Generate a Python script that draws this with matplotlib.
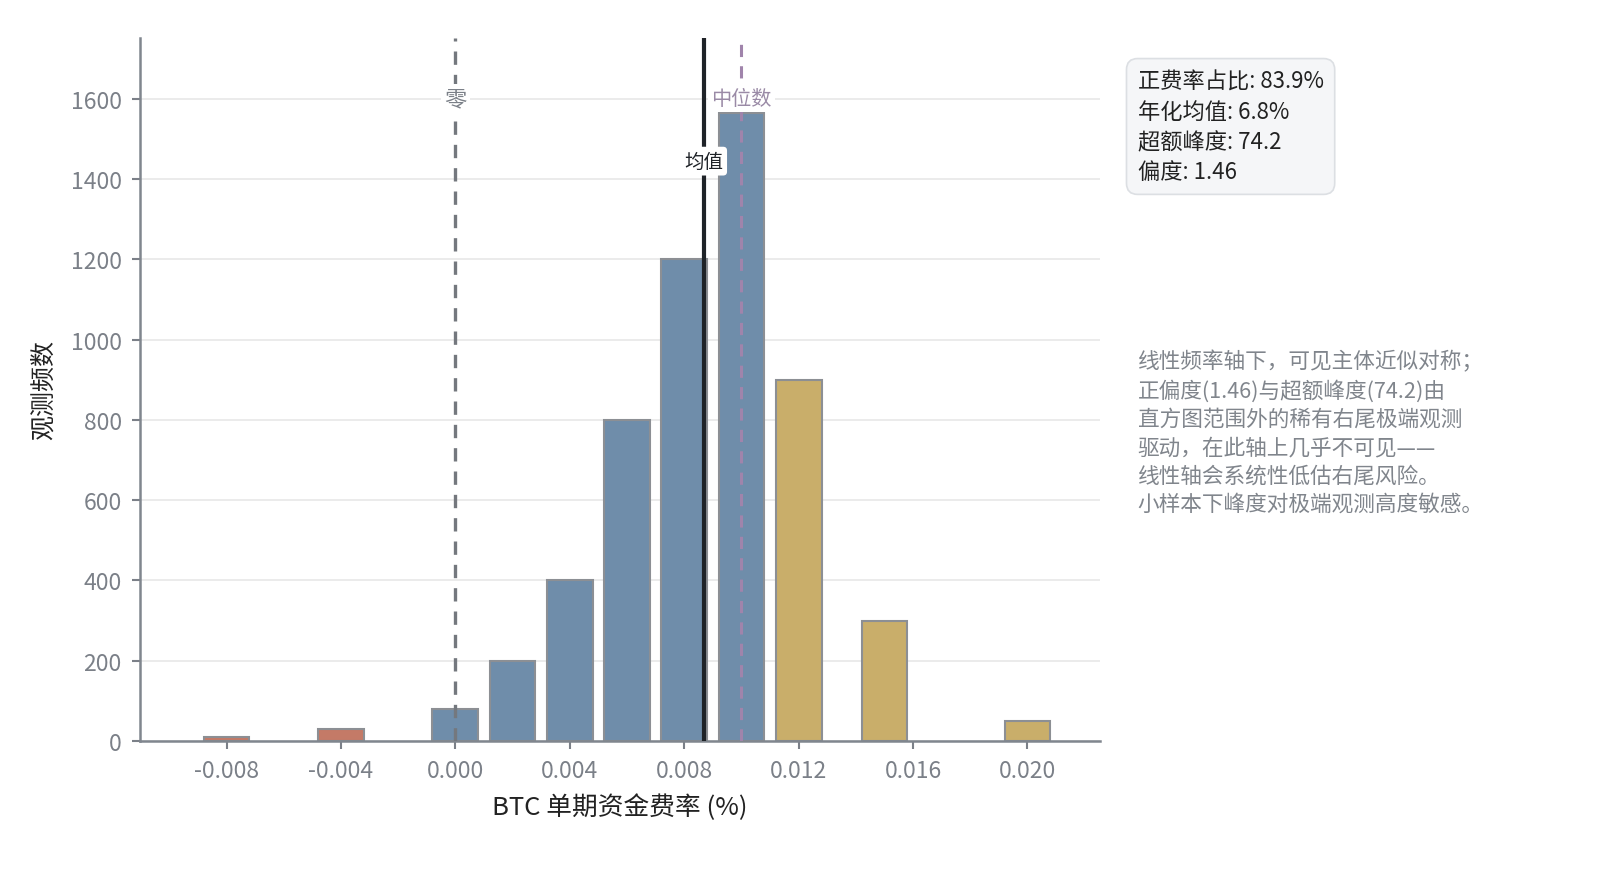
import matplotlib
matplotlib.use("Agg")
import matplotlib.pyplot as plt
import numpy as np

plt.rcParams['font.family'] = ['Noto Sans CJK SC', 'DejaVu Sans']
plt.rcParams['axes.unicode_minus'] = False

# Histogram data (bin centres in %, counts)
bin_centers = [-0.008, -0.004, 0.000, 0.002, 0.004, 0.006, 0.008, 0.010, 0.012, 0.015, 0.020]
counts = [10, 30, 80, 200, 400, 800, 1200, 1565, 900, 300, 50]
bar_width = 0.0016

mean_rate = 0.00868
median_rate = 0.010

stats_lines = ["正费率占比: 83.9%", "年化均值: 6.8%", "超额峰度: 74.2", "偏度: 1.46"]
note_lines = [
    "线性频率轴下，可见主体近似对称；",
    "正偏度(1.46)与超额峰度(74.2)由",
    "直方图范围外的稀有右尾极端观测",
    "驱动，在此轴上几乎不可见——",
    "线性轴会系统性低估右尾风险。",
    "小样本下峰度对极端观测高度敏感。",
]
xtick_vals = [-0.008, -0.004, 0.000, 0.004, 0.008, 0.012, 0.016, 0.020]
ytick_vals = [0, 200, 400, 600, 800, 1000, 1200, 1400, 1600]

RED = "#c47a67"
BLUE = "#6f8daa"
GOLD = "#c9ae6a"
GRAY = "#7b8088"


def bar_color(x):
    if x < 0:
        return RED
    if x <= median_rate:
        return BLUE
    return GOLD


fig = plt.figure(figsize=(16, 8.78), dpi=100)
ax = fig.add_axes([0.0874, 0.155, 0.600, 0.801])

colors = [bar_color(x) for x in bin_centers]
ax.bar(bin_centers, counts, width=bar_width, color=colors,
       edgecolor="#8c8f94", linewidth=1.5, zorder=2)

ymax = max(counts) * 1.12
ax.set_xlim(-0.01103, 0.02253)
ax.set_ylim(0, ymax)

# reference lines
ax.axvline(0, color="#74787e", linestyle=(0, (4, 3)), linewidth=2.4, zorder=3)
ax.axvline(mean_rate, color="#1f2328", linewidth=3, zorder=4)
ax.axvline(median_rate, color="#a084ab", linestyle=(0, (4, 3)), linewidth=2.2, zorder=4)

ax.text(0, 1600, "零", ha="center", va="center", fontsize=16, color="#7b8088", zorder=5,
        bbox=dict(boxstyle="square,pad=0.15", fc="white", ec="none"))
ax.text(median_rate, 1600, "中位数", ha="center", va="center", fontsize=14.5, color="#9a8aa6", zorder=5,
        bbox=dict(boxstyle="square,pad=0.15", fc="white", ec="none"))
ax.text(mean_rate, 1445, "均值", ha="center", va="center", fontsize=14, color="#1f2328", zorder=5,
        bbox=dict(boxstyle="round,pad=0.2", fc="white", ec="none"))

ax.set_xticks(xtick_vals)
ax.set_xticklabels([f"{v:.3f}" for v in xtick_vals])
ax.set_yticks(ytick_vals)
ax.tick_params(axis="both", labelsize=16.5, colors=GRAY, length=6, width=1.5, pad=7)
ax.grid(axis="y", color="#e8e8e8", linewidth=1.2, zorder=0)
ax.set_axisbelow(True)

for side in ["top", "right"]:
    ax.spines[side].set_visible(False)
for side in ["left", "bottom"]:
    ax.spines[side].set_color("#80868e")
    ax.spines[side].set_linewidth(1.8)

ax.set_xlabel("BTC 单期资金费率 (%)", fontsize=18.5, color="#222222", labelpad=8)
ax.set_ylabel("观测频数", fontsize=18, color="#222222", labelpad=10)

fig.text(0.711, 0.9195, "\n".join(stats_lines), ha="left", va="top", fontsize=16,
         color="#222222", linespacing=1.4,
         bbox=dict(boxstyle="round,pad=0.5", fc="#f5f6f8", ec="#dcdfe3", lw=1.2))

fig.text(0.711, 0.600, "\n".join(note_lines), ha="left", va="top", fontsize=15.6,
         color="#80858c", linespacing=1.37)

fig.savefig("out.png", dpi=100)
